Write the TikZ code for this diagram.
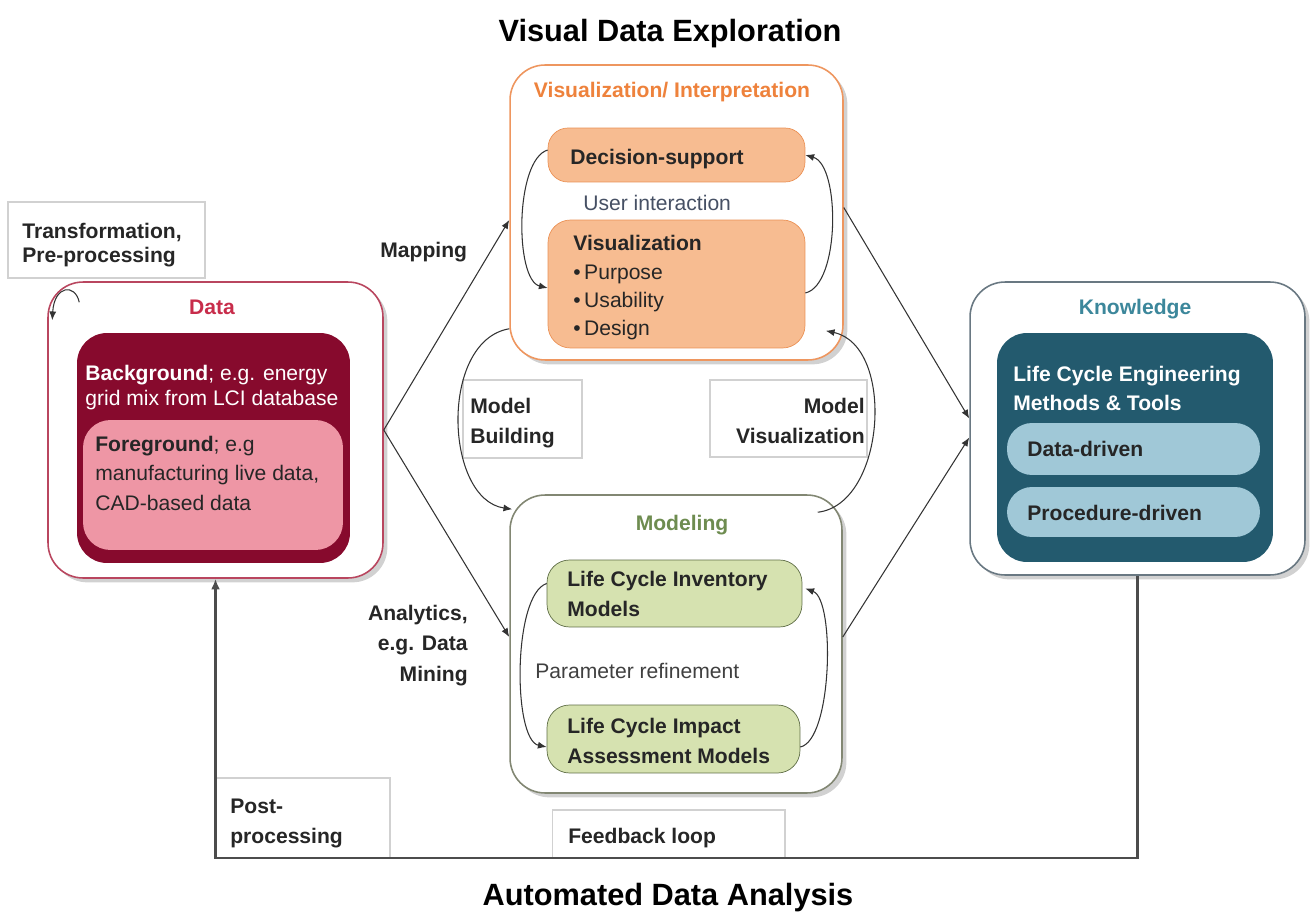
\documentclass[tikz,border=0pt]{standalone}
\usepackage{fontspec}
\setmainfont{Liberation Sans}
\usetikzlibrary{arrows.meta,calc,shadows}

% palette
\definecolor{dataline}{RGB}{185,70,95}
\definecolor{datatitle}{RGB}{200,45,75}
\definecolor{datadark}{RGB}{135,10,45}
\definecolor{datapink}{RGB}{238,150,165}
\definecolor{vizline}{RGB}{238,150,95}
\definecolor{viztitle}{RGB}{238,130,60}
\definecolor{vizfill}{RGB}{247,188,145}
\definecolor{vizbox}{RGB}{235,145,85}
\definecolor{usertext}{RGB}{70,80,100}
\definecolor{modline}{RGB}{130,135,115}
\definecolor{modtitle}{RGB}{110,140,80}
\definecolor{modfill}{RGB}{214,226,176}
\definecolor{modbox}{RGB}{95,110,70}
\definecolor{knowline}{RGB}{105,120,130}
\definecolor{knowtitle}{RGB}{60,135,155}
\definecolor{knowdark}{RGB}{35,90,110}
\definecolor{knowlight}{RGB}{160,200,215}

\begin{document}
\begin{tikzpicture}[x=0.02cm,y=-0.02cm,
  panel/.style={draw, fill=white, rounded corners=0.7cm, line width=0.9pt, inner sep=0pt,
    drop shadow={shadow xshift=2.5pt, shadow yshift=-2.5pt, opacity=0.3, fill=black!60}},
  inbox/.style={inner sep=0pt, rounded corners=#1},
  lbl/.style={draw=black!18, line width=0.6pt, fill=white, inner sep=0pt},
  txt/.style={inner sep=0pt, anchor=base west, align=left},
  txtr/.style={inner sep=0pt, anchor=base east, align=right},
  fs/.style={font=\fontsize{12}{#1}\selectfont},
  fsb/.style={font=\fontsize{12}{#1}\selectfont\bfseries},
  ptitle/.style={inner sep=0pt, anchor=base, font=\fontsize{12}{16}\selectfont\bfseries},
  bigtitle/.style={inner sep=0pt, anchor=base, font=\fontsize{17.5}{21}\selectfont\bfseries},
  conn/.style={draw=black!80, line width=0.6pt, -{Latex[length=5pt,width=4pt]}},
  fbline/.style={draw=black!70, line width=1.4pt, -{Latex[length=6pt,width=5pt]}}]

\useasboundingbox (0,0) rectangle (1311,915);

% label frames
\node[lbl, minimum width=3.94cm, minimum height=1.52cm] (transbox) at (106.5,240) {};
\node[lbl, minimum width=2.38cm, minimum height=1.56cm] (mbbox) at (522.5,419) {};
\node[lbl, minimum width=3.14cm, minimum height=1.54cm] (mvbox) at (788.5,418.5) {};
\node[lbl, minimum width=3.50cm, minimum height=1.60cm] (postbox) at (302.5,818) {};
\node[lbl, minimum width=4.66cm, minimum height=0.96cm] (fbbox) at (668.5,834) {};

% Data panel
\node[panel, draw=dataline, minimum width=6.70cm, minimum height=5.92cm] (data) at (215.5,430) {};
\node[inbox=0.6cm, fill=datadark, minimum width=5.46cm, minimum height=4.60cm] (bgbox) at (213.5,448) {};
\node[inbox=0.55cm, fill=datapink, minimum width=5.20cm, minimum height=2.60cm] (fgbox) at (213,485) {};

% Visualization panel
\node[panel, draw=vizline, minimum width=6.66cm, minimum height=5.90cm] (viz) at (676.5,212.5) {};
\node[inbox=0.4cm, draw=vizbox, fill=vizfill, minimum width=5.14cm, minimum height=1.08cm] (dec) at (676.5,155) {};
\node[inbox=0.45cm, draw=vizbox, fill=vizfill, minimum width=5.14cm, minimum height=2.56cm] (vis) at (676.5,284) {};

% Modeling panel
\node[panel, draw=modline, minimum width=6.64cm, minimum height=5.96cm] (mod) at (676,644) {};
\node[inbox=0.45cm, draw=modbox, fill=modfill, minimum width=5.10cm, minimum height=1.34cm] (lci) at (674.5,593.5) {};
\node[inbox=0.45cm, draw=modbox, fill=modfill, minimum width=5.06cm, minimum height=1.36cm] (lcia) at (673.5,739) {};

% Knowledge panel
\node[panel, draw=knowline, minimum width=6.70cm, minimum height=5.86cm] (know) at (1137.5,428.5) {};
\node[inbox=0.6cm, fill=knowdark, minimum width=5.52cm, minimum height=4.58cm] (lcebox) at (1135,447.5) {};
\node[inbox=0.5cm, fill=knowlight, minimum width=5.06cm, minimum height=1.04cm] (dd) at (1133.5,449) {};
\node[inbox=0.5cm, fill=knowlight, minimum width=5.06cm, minimum height=1.00cm] (pd) at (1133.5,512) {};

% headings
\node[bigtitle] (vdetitle) at (670,42) {Visual Data Exploration};
\node[bigtitle] (adatitle) at (668,905) {Automated Data Analysis};

% panel titles
\node[ptitle, text=datatitle] (datat) at (212,315) {Data};
\node[ptitle, text=viztitle] (vizt) at (672,98) {Visualization/ Interpretation};
\node[ptitle, text=modtitle] (modt) at (682,530) {Modeling};
\node[ptitle, text=knowtitle] (knowt) at (1135,315) {Knowledge};

% box texts (base anchor = baseline of the last line)
\node[txt, fs=14.2pt, text=white] (bgtext) at (85,405) {\textbf{Background}; e.g. energy\\grid mix from LCI database};
\node[txt, fs=16.7pt, text=black!85] (fgtext) at (95,510) {\textbf{Foreground}; e.g\\manufacturing live data,\\CAD-based data};
\node[txt, fsb=16pt, text=black!85] (dectext) at (570,165) {Decision-support};
\node[txt, fs=16pt, text=usertext] (usertxt) at (583,211) {User interaction};
\node[txt, fs=16.2pt, text=black!85] (vistext) at (573,336) {\textbf{Visualization}\\\textbullet\,Purpose\\\textbullet\,Usability\\\textbullet\,Design};
\node[txt, fsb=17pt, text=black!85] (lcitext) at (567,616) {Life Cycle Inventory\\Models};
\node[txt, fs=16pt, text=black!75] (paramtxt) at (535,678) {Parameter refinement};
\node[txt, fsb=17pt, text=black!85] (lciatext) at (567,763) {Life Cycle Impact\\Assessment Models};
\node[txt, fsb=16.4pt, text=white] (lcetext) at (1013,410) {Life Cycle Engineering\\Methods \& Tools};
\node[txt, fsb=16pt, text=black!85] (ddtext) at (1027,456) {Data-driven};
\node[txt, fsb=16pt, text=black!85] (pdtext) at (1027,520) {Procedure-driven};

% connector labels
\node[txt, fsb=14.2pt, text=black!85] (transtxt) at (22,263) {Transformation,\\Pre-processing};
\node[txt, fsb=16pt, text=black!85] (maptxt) at (380,258) {Mapping};
\node[txt, fsb=17pt, text=black!85] (mbtxt) at (470,443) {Model\\Building};
\node[txtr, fsb=17pt, text=black!85] (mvtxt) at (865,443) {Model\\Visualization};
\node[txtr, fsb=17.3pt, text=black!85] (antxt) at (468,681) {Analytics,\\e.g. Data\\Mining};
\node[txt, fsb=17pt, text=black!85] (posttxt) at (230,843) {Post-\\processing};
\node[txt, fsb=16pt, text=black!85] (fbtxt) at (568,843) {Feedback loop};

% flows between panels
\draw[conn] (data.east) -- ($(viz.west)+(0,7.5)$);
\draw[conn] (data.east) -- ($(mod.west)+(0,-7)$);
\draw[conn] ($(viz.east)+(0,-5)$) -- ($(know.west)+(0,-10)$);
\draw[conn] ($(mod.east)+(0,-7)$) -- ($(know.west)+(0,9)$);

% model building / model visualization loops
\draw[conn] ($(viz.south west)+(0,-32)$) .. controls ($(viz.south west)+(-70,-20)$) and ($(mod.north west)+(-65,5)$) .. ($(mod.north west)+(3,15)$);
\draw[conn] ($(mod.north east)+(-25,18)$) .. controls ($(mod.north east)+(43,10)$) and ($(viz.south east)+(52,-15)$) .. ($(viz.south east)+(-18,-30)$);

% loops inside the visualization panel
\draw[conn] ($(dec.west)+(0,-5)$) .. controls ($(dec.west)+(-33,5)$) and ($(vis.west)+(-33,-4)$) .. ($(vis.west)+(0,4)$);
\draw[conn] ($(vis.east)+(0,9)$) .. controls ($(vis.east)+(35,1)$) and ($(dec.east)+(35,10)$) .. (dec.east);

% loops inside the modeling panel
\draw[conn] ($(lci.west)+(0,-10)$) .. controls ($(lci.west)+(-34,1)$) and ($(lcia.west)+(-34,1)$) .. ($(lcia.west)+(0,8)$);
\draw[conn] ($(lcia.east)+(0,8)$) .. controls ($(lcia.east)+(32,1)$) and ($(lci.east)+(33,6)$) .. ($(lci.east)+(3,-5)$);

% self loop on the data panel
\draw[conn] ($(data.north west)+(32,21)$) .. controls ($(data.north west)+(28,2)$) and ($(data.north west)+(7,4)$) .. ($(data.north west)+(5,39)$);

% feedback from knowledge back to data
\coordinate (fbrow) at (0,858);
\draw[fbline] (know.south) -- (know.south |- fbrow) -- (data.south |- fbrow) -- (data.south);

\end{tikzpicture}
\end{document}
